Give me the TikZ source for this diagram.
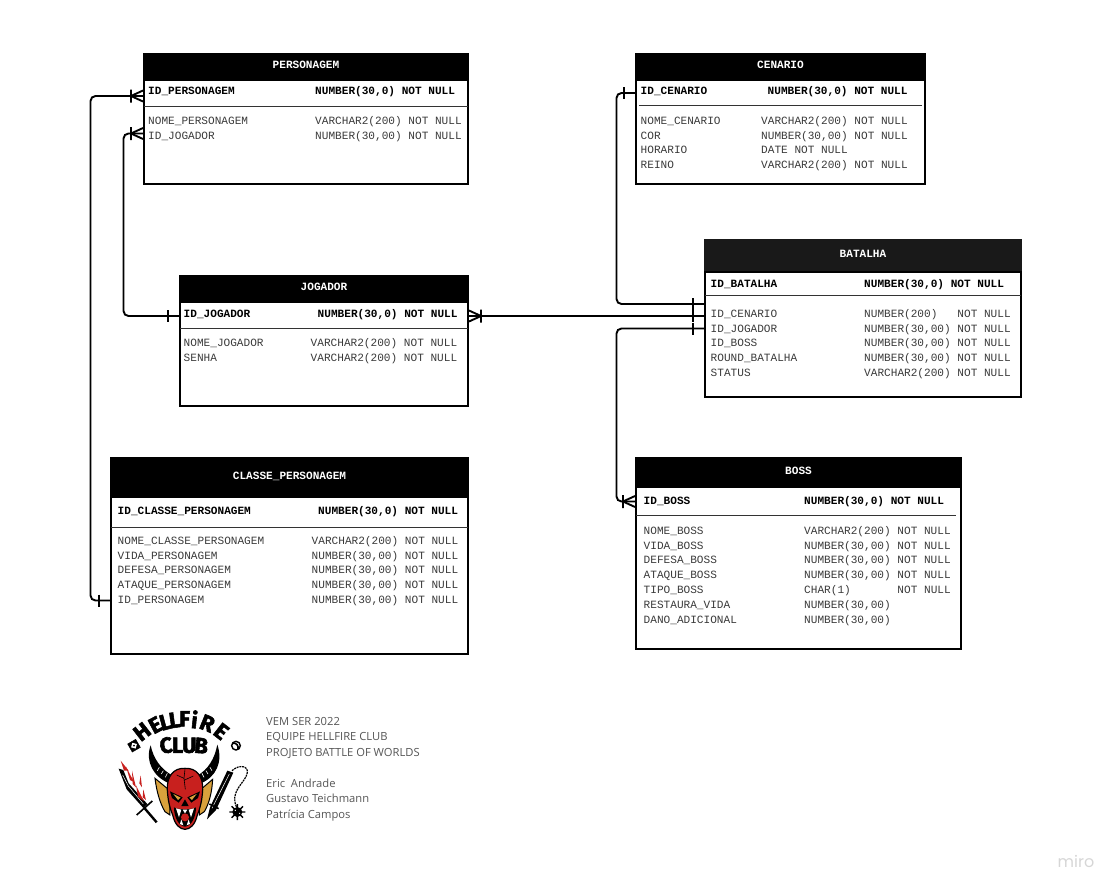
\documentclass[tikz,border=0pt]{standalone}
\usepackage{fontspec}
\setmonofont{Liberation Mono}
\newfontfamily\notefont{Open Sans}
\newfontfamily\logofont[FakeBold=2.5]{Fira Sans}
\newfontfamily\brandfont{Poppins}
\usetikzlibrary{positioning}
\definecolor{fieldgray}{HTML}{3A3A3A}
\definecolor{notegray}{HTML}{555555}
\definecolor{devilred}{HTML}{C8201E}
\definecolor{wingtan}{HTML}{D9A13C}
% crow's foot and single bar ends
\pgfdeclarearrow{
  name=crowfoot,
  setup code={\pgfarrowssettipend{0pt}\pgfarrowssetlineend{0pt}\pgfarrowssetbackend{-12pt}},
  drawing code={
    \pgfpathmoveto{\pgfpoint{0pt}{5.5pt}}
    \pgfpathlineto{\pgfpoint{-12pt}{0pt}}
    \pgfpathlineto{\pgfpoint{0pt}{-5.5pt}}
    \pgfpathmoveto{\pgfpoint{-12pt}{6.5pt}}
    \pgfpathlineto{\pgfpoint{-12pt}{-6.5pt}}
    \pgfusepathqstroke
  }
}
\pgfdeclarearrow{
  name=onebar,
  setup code={\pgfarrowssettipend{0pt}\pgfarrowssetlineend{0pt}\pgfarrowssetbackend{-11pt}},
  drawing code={
    \pgfpathmoveto{\pgfpoint{-11pt}{6pt}}
    \pgfpathlineto{\pgfpoint{-11pt}{-6pt}}
    \pgfusepathqstroke
  }
}
\tikzset{
  tblhead/.style={fill=black, text=white, anchor=north west, inner sep=0pt, outer sep=0pt,
    text height=8pt, text depth=3.5pt, font=\ttfamily\bfseries\fontsize{11.1}{13}\selectfont},
  tblbody/.style={draw=black, fill=white, line width=2pt, inner sep=0pt, outer sep=0pt},
  rowline/.style={draw=black!80, line width=1pt},
  field/.style={anchor=west, inner sep=0pt, text height=8.5pt, text depth=2pt, text=fieldgray,
    font=\ttfamily\fontsize{11.1}{13}\selectfont},
  idfield/.style={field, text=black, font=\ttfamily\bfseries\fontsize{11.1}{13}\selectfont},
  nextrow/.style={below=14.85pt of #1.west, anchor=west},
  rel/.style={draw=black, line width=1.9pt, rounded corners=5pt},
  note/.style={anchor=west, inner sep=0pt, text=notegray, text height=8.5pt, text depth=2pt,
    font=\notefont\fontsize{11.2}{13}\selectfont},
  logoletter/.style={inner sep=0pt, text=black, font=\logofont\bfseries\fontsize{22}{22}\selectfont},
}
\begin{document}
\begin{tikzpicture}[x=1pt, y=-1pt]
    \useasboundingbox (0,0) rectangle (1119,892);

    % PERSONAGEM
    \node[tblhead, minimum width=326pt, minimum height=27pt] (pers) at (143,53) {PERSONAGEM};
    \node[tblbody, below=0pt of pers, minimum width=324pt, minimum height=104pt] (persbody) {};
    \draw[rowline] ([yshift=-26pt]persbody.north west) -- ([yshift=-26pt]persbody.north east);
    \node[idfield] (persid) at (148,91) {ID\_PERSONAGEM};
    \node[idfield] (persidtype) at (315,91) {NUMBER(30,0) NOT NULL};
    \node[field] (persnome) at (148,121) {NOME\_PERSONAGEM};
    \node[field, nextrow=persnome] (persjog) {ID\_JOGADOR};
    \node[field] (persnometype) at (315,121) {VARCHAR2(200) NOT NULL};
    \node[field, nextrow=persnometype] (persjogtype) {NUMBER(30,00) NOT NULL};

    % JOGADOR
    \node[tblhead, minimum width=290pt, minimum height=27pt] (jog) at (179,275) {JOGADOR};
    \node[tblbody, below=0pt of jog, minimum width=288pt, minimum height=104pt] (jogbody) {};
    \draw[rowline] ([yshift=-26pt]jogbody.north west) -- ([yshift=-26pt]jogbody.north east);
    \node[idfield] (jogid) at (183.5,314) {ID\_JOGADOR};
    \node[idfield] (jogidtype) at (317.5,314) {NUMBER(30,0) NOT NULL};
    \node[field] (jognome) at (183.5,343) {NOME\_JOGADOR};
    \node[field, nextrow=jognome] (jogsenha) {SENHA};
    \node[field] (jognometype) at (310.5,343) {VARCHAR2(200) NOT NULL};
    \node[field, nextrow=jognometype] (jogsenhatype) {VARCHAR2(200) NOT NULL};

    % CLASSE_PERSONAGEM
    \node[tblhead, minimum width=359pt, minimum height=40pt] (cla) at (110,457) {CLASSE\_PERSONAGEM};
    \node[tblbody, below=0pt of cla, minimum width=357pt, minimum height=157pt] (clabody) {};
    \draw[rowline] ([yshift=-30pt]clabody.north west) -- ([yshift=-30pt]clabody.north east);
    \node[idfield] (claid) at (117.5,511) {ID\_CLASSE\_PERSONAGEM};
    \node[idfield] (claidtype) at (318,511) {NUMBER(30,0) NOT NULL};
    \node[field] (clanome) at (117.5,541) {NOME\_CLASSE\_PERSONAGEM};
    \node[field, nextrow=clanome] (clavida) {VIDA\_PERSONAGEM};
    \node[field, nextrow=clavida] (cladef) {DEFESA\_PERSONAGEM};
    \node[field, nextrow=cladef] (claata) {ATAQUE\_PERSONAGEM};
    \node[field, nextrow=claata] (clapers) {ID\_PERSONAGEM};
    \node[field] (clanometype) at (311.5,541) {VARCHAR2(200) NOT NULL};
    \node[field, nextrow=clanometype] (clavidatype) {NUMBER(30,00) NOT NULL};
    \node[field, nextrow=clavidatype] (cladeftype) {NUMBER(30,00) NOT NULL};
    \node[field, nextrow=cladeftype] (claatatype) {NUMBER(30,00) NOT NULL};
    \node[field, nextrow=claatatype] (claperstype) {NUMBER(30,00) NOT NULL};

    % CENARIO
    \node[tblhead, minimum width=291pt, minimum height=27pt] (cen) at (635,53) {CENARIO};
    \node[tblbody, below=0pt of cen, minimum width=289pt, minimum height=104pt] (cenbody) {};
    \draw[rowline] ([xshift=3pt,yshift=-25pt]cenbody.north west) -- ([xshift=-3pt,yshift=-25pt]cenbody.north east);
    \node[idfield] (cenid) at (640.5,91) {ID\_CENARIO};
    \node[idfield] (cenidtype) at (767.5,91) {NUMBER(30,0) NOT NULL};
    \node[field] (cennome) at (640.5,121) {NOME\_CENARIO};
    \node[field, nextrow=cennome] (cencor) {COR};
    \node[field, nextrow=cencor] (cenhora) {HORARIO};
    \node[field, nextrow=cenhora] (cenreino) {REINO};
    \node[field] (cennometype) at (761,121) {VARCHAR2(200) NOT NULL};
    \node[field, nextrow=cennometype] (cencortype) {NUMBER(30,00) NOT NULL};
    \node[field, nextrow=cencortype] (cenhoratype) {DATE NOT NULL};
    \node[field, nextrow=cenhoratype] (cenreinotype) {VARCHAR2(200) NOT NULL};

    % BATALHA
    \node[tblhead, fill=black!90, minimum width=318pt, minimum height=33pt] (bat) at (704,239) {BATALHA};
    \node[tblbody, below=0pt of bat, minimum width=316pt, minimum height=125pt] (batbody) {};
    \draw[rowline] ([yshift=-23pt]batbody.north west) -- ([yshift=-23pt]batbody.north east);
    \node[idfield] (batid) at (710.5,284) {ID\_BATALHA};
    \node[idfield] (batidtype) at (864,284) {NUMBER(30,0) NOT NULL};
    \node[field] (batcen) at (710.5,314) {ID\_CENARIO};
    \node[field, nextrow=batcen] (batjog) {ID\_JOGADOR};
    \node[field, nextrow=batjog] (batboss) {ID\_BOSS};
    \node[field, nextrow=batboss] (batround) {ROUND\_BATALHA};
    \node[field, nextrow=batround] (batstatus) {STATUS};
    \node[field] (batcentype) at (864,314) {NUMBER(200)\ \ \ NOT NULL};
    \node[field, nextrow=batcentype] (batjogtype) {NUMBER(30,00) NOT NULL};
    \node[field, nextrow=batjogtype] (batbosstype) {NUMBER(30,00) NOT NULL};
    \node[field, nextrow=batbosstype] (batroundtype) {NUMBER(30,00) NOT NULL};
    \node[field, nextrow=batroundtype] (batstatustype) {VARCHAR2(200) NOT NULL};

    % BOSS
    \node[tblhead, minimum width=327pt, minimum height=30pt] (boss) at (635,457) {BOSS};
    \node[tblbody, below=0pt of boss, minimum width=325pt, minimum height=162pt] (bossbody) {};
    \draw[rowline] ([yshift=-28.5pt]bossbody.north west) -- ([xshift=-5pt,yshift=-28.5pt]bossbody.north east);
    \node[idfield] (bossid) at (643.5,501) {ID\_BOSS};
    \node[idfield] (bossidtype) at (804,501) {NUMBER(30,0) NOT NULL};
    \node[field] (bossnome) at (643.5,531) {NOME\_BOSS};
    \node[field, nextrow=bossnome] (bossvida) {VIDA\_BOSS};
    \node[field, nextrow=bossvida] (bossdef) {DEFESA\_BOSS};
    \node[field, nextrow=bossdef] (bossata) {ATAQUE\_BOSS};
    \node[field, nextrow=bossata] (bosstipo) {TIPO\_BOSS};
    \node[field, nextrow=bosstipo] (bossrest) {RESTAURA\_VIDA};
    \node[field, nextrow=bossrest] (bossdano) {DANO\_ADICIONAL};
    \node[field] (bossnometype) at (804,531) {VARCHAR2(200) NOT NULL};
    \node[field, nextrow=bossnometype] (bossvidatype) {NUMBER(30,00) NOT NULL};
    \node[field, nextrow=bossvidatype] (bossdeftype) {NUMBER(30,00) NOT NULL};
    \node[field, nextrow=bossdeftype] (bossatatype) {NUMBER(30,00) NOT NULL};
    \node[field, nextrow=bossatatype] (bosstipotype) {CHAR(1)\ \ \ \ \ \ \ NOT NULL};
    \node[field, nextrow=bosstipotype] (bossresttype) {NUMBER(30,00)};
    \node[field, nextrow=bossresttype] (bossdanotype) {NUMBER(30,00)};

    % connector ends on the table sides
    \coordinate (persin) at (143,96);
    \coordinate (persjogin) at (143,133.5);
    \coordinate (claout) at (110,600.5);
    \coordinate (jogout) at (179,316);
    \coordinate (jogin) at (469,316);
    \coordinate (cenout) at (635,93);
    \coordinate (batcenin) at (704,304);
    \coordinate (batjogin) at (704,316);
    \coordinate (batbossin) at (704,328.5);
    \coordinate (bossin) at (635,501.5);

    \draw[rel, onebar-crowfoot] (claout) -| (90.5,300) |- (persin);
    \draw[rel, onebar-crowfoot] (jogout) -| (123.5,200) |- (persjogin);
    \draw[rel, onebar-crowfoot] (batjogin) -- (jogin);
    \draw[rel, onebar-onebar] (cenout) -| (616.5,200) |- (batcenin);
    \draw[rel, onebar-crowfoot] (batbossin) -| (616.5,400) |- (bossin);

    % team note
    \node[note] (note1) at (266,722) {VEM SER 2022};
    \node[note] (note2) at (266,737) {EQUIPE HELLFIRE CLUB};
    \node[note] (note3) at (266,753) {PROJETO BATTLE OF WORLDS};
    \node[note] (note4) at (266,784) {Eric\ \ Andrade};
    \node[note] (note5) at (266,799) {Gustavo Teichmann};
    \node[note] (note6) at (266,815) {Patrícia Campos};
    \node[inner sep=0pt, text=black!16, font=\brandfont\fontsize{16}{16}\selectfont] (brand) at (1076,861) {miro};

    % logo, drawn in 3x units
    \begin{scope}[shift={(110,700)}, x=0.3333pt, y=-0.3333pt]
      \node[logoletter, rotate=38] (hfa) at (96,95) {H};
      \node[logoletter, rotate=28] (hfb) at (136,75) {E};
      \node[logoletter, rotate=15] (hfc) at (166,66) {L};
      \node[logoletter, rotate=8] (hfd) at (194,60) {L};
      \node[logoletter, rotate=0] (hfe) at (224,56) {F};
      \node[logoletter, rotate=-6] (hff) at (254,58) {i};
      \node[logoletter, rotate=-22] (hfg) at (292,70) {R};
      \node[logoletter, rotate=-38] (hfh) at (334,94) {E};
      \node[logoletter, rotate=8] (cla) at (168,136) {C};
      \node[logoletter] (clb) at (203,136) {L};
      \node[logoletter] (clc) at (238,136) {U};
      \node[logoletter, rotate=-6] (cld) at (274,137) {B};

      % horns
      \fill[black] (178,250) .. controls (132,232) and (104,185) .. (122,136) .. controls (130,175) and (152,208) .. (190,228) -- cycle;
      \fill[black] (272,250) .. controls (318,232) and (340,185) .. (322,134) .. controls (314,175) and (296,208) .. (260,228) -- cycle;
      \draw[white, line width=0.6pt] (148,202) -- (142,212) (160,212) -- (154,222) (172,220) -- (166,232);
      \draw[white, line width=0.6pt] (300,202) -- (306,212) (288,212) -- (294,222) (276,220) -- (282,232);

      % wings
      \filldraw[fill=wingtan, draw=black, line width=1pt] (135,235) -- (180,272) -- (180,345) -- (165,335) .. controls (150,310) and (140,275) .. (135,235) -- cycle;
      \filldraw[fill=wingtan, draw=black, line width=1pt] (308,238) -- (268,272) -- (268,345) -- (283,335) .. controls (298,310) and (306,275) .. (308,238) -- cycle;

      % head
      \filldraw[fill=devilred, draw=black, line width=1.2pt] (225,205) .. controls (260,203) and (280,230) .. (278,270) .. controls (276,300) and (272,320) .. (262,345) .. controls (255,375) and (240,388) .. (225,388) .. controls (210,388) and (195,375) .. (188,345) .. controls (178,320) and (174,300) .. (172,270) .. controls (170,230) and (190,203) .. (225,205) -- cycle;
      \draw[black, line width=0.6pt] (225,207) -- (222,235) -- (226,268) (222,235) -- (200,225) (224,240) -- (250,228);

      % eyes, nose, mouth
      \fill[black] (180,274) -- (218,292) -- (206,308) -- (186,294) -- cycle;
      \fill[black] (270,274) -- (232,292) -- (244,308) -- (264,294) -- cycle;
      \fill[wingtan] (190,282) -- (212,293) -- (204,300) -- cycle;
      \fill[wingtan] (260,282) -- (238,293) -- (246,300) -- cycle;
      \fill[black] (225,298) -- (236,318) -- (214,318) -- cycle;
      \fill[black] (192,322) .. controls (205,330) and (245,330) .. (258,322) .. controls (258,350) and (245,378) .. (225,380) .. controls (205,378) and (192,350) .. (192,322) -- cycle;
      \fill[white] (198,325) -- (207,352) -- (214,329) -- cycle;
      \fill[white] (236,329) -- (243,352) -- (252,325) -- cycle;
      \fill[white] (218,329) -- (225,340) -- (232,329) -- cycle;
      \fill[devilred] (225,352) ellipse (12 and 12);
      \fill[white] (210,372) -- (214,358) -- (220,376) -- cycle;
      \fill[white] (240,372) -- (236,358) -- (230,376) -- cycle;

      % dice and ball
      \filldraw[fill=black, draw=black, rotate around={30:(72,137)}] (58,123) rectangle (86,151);
      \fill[white, rotate around={30:(72,137)}] (72,127) -- (82,137) -- (72,147) -- (62,137) -- cycle;
      \fill[black] (72,137) circle (3);
      \draw[black, line width=1.4pt] (378,137) circle (13);
      \draw[black, line width=1.6pt] (368,130) .. controls (380,128) and (386,136) .. (384,148);

      % sword with flames
      \fill[black] (26,206) -- (40,210) -- (56,250) -- (112,312) -- (100,324) -- (50,268) -- cycle;
      \draw[white, line width=0.5pt] (38,225) -- (55,258) -- (100,312);
      \draw[black, line width=1.6pt] (80,345) -- (127,303);
      \draw[black, line width=2.4pt] (104,325) -- (140,367);
      \fill[devilred] (32,182) -- (56,212) -- (42,212) -- cycle;
      \fill[devilred] (48,200) -- (72,246) -- (60,240) -- cycle;
      \fill[devilred] (66,212) -- (78,262) -- (68,252) -- cycle;
      \fill[devilred] (92,226) -- (96,262) -- (88,250) -- cycle;
      \fill[devilred] (78,256) -- (102,304) -- (84,290) -- cycle;
      \fill[devilred] (100,268) -- (108,300) -- (98,292) -- cycle;

      % second sword, chain and mace
      \fill[black] (291,358) -- (300,322) -- (352,212) -- (370,218) -- (318,330) -- cycle;
      \draw[white, line width=0.5pt] (306,325) -- (358,222);
      \draw[black, line width=1.6pt] (298,312) -- (326,326);
      \draw[black, line width=1.2pt, dash pattern=on 2pt off 0.8pt] (366,212) .. controls (390,190) and (424,198) .. (408,230) .. controls (395,255) and (360,280) .. (380,322);
      \fill[black] (382,336) circle (15);
      \draw[black, line width=1.4pt] (358,336) -- (406,336) (382,312) -- (382,360) (365,319) -- (399,353) (399,319) -- (365,353);
      \fill[white] (376,331) circle (2) (389,340) circle (2);
    \end{scope}
\end{tikzpicture}
\end{document}
